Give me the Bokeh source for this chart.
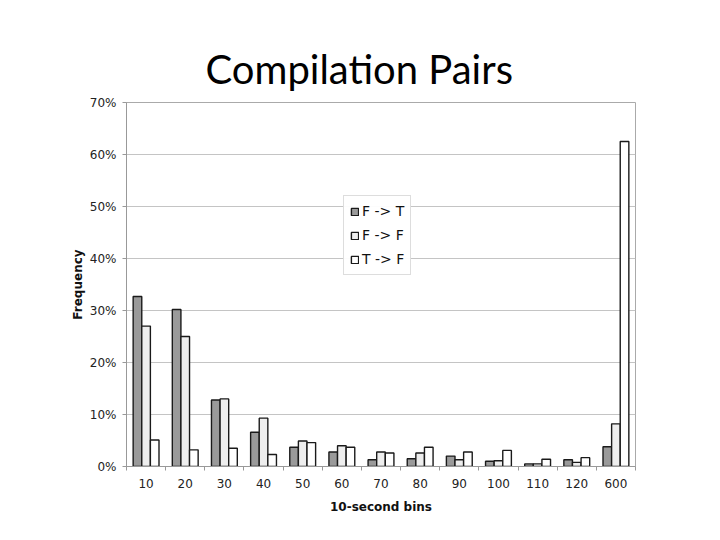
from bokeh.plotting import figure
from bokeh.models import FixedTicker, PrintfTickFormatter, Range1d
from bokeh.embed import file_html
from bokeh.resources import INLINE
import numpy as np

# data (percent)
bins = ["10", "20", "30", "40", "50", "60", "70", "80", "90", "100", "110", "120", "600"]
f_to_t = [32.7, 30.2, 12.8, 6.6, 3.7, 2.8, 1.3, 1.5, 2.0, 1.0, 0.5, 1.3, 3.8]
f_to_f = [27.0, 25.0, 13.0, 9.3, 4.9, 4.0, 2.8, 2.6, 1.3, 1.1, 0.5, 0.8, 8.2]
t_to_f = [5.1, 3.2, 3.5, 2.3, 4.6, 3.7, 2.6, 3.7, 2.8, 3.1, 1.4, 1.7, 62.5]
y_ticks = [0, 10, 20, 30, 40, 50, 60, 70]

centers = np.arange(len(bins)) + 0.5
bw = 0.22

p = figure(width=704, height=524, output_backend="svg", toolbar_location=None,
           x_range=Range1d(0, len(bins)), y_range=Range1d(0, 70),
           min_border_left=126, min_border_right=69, min_border_top=102, min_border_bottom=58,
           title="Compilation Pairs")

series = [(f_to_t, "F -> T", "#9a9a9a", -bw), (f_to_f, "F -> F", "#eeeeee", 0), (t_to_f, "T -> F", "#ffffff", bw)]
for vals, name, color, off in series:
    p.vbar(x=centers + off, top=vals, width=bw, fill_color=color,
           line_color="#1a1a1a", line_width=1.4, legend_label=name)

# axes
p.xaxis.ticker = FixedTicker(ticks=list(centers), minor_ticks=list(np.arange(len(bins) + 1)))
p.xaxis.major_label_overrides = {float(c): b for c, b in zip(centers, bins)}
p.xaxis.major_tick_line_color = None
p.xaxis.minor_tick_in = 0
p.xaxis.minor_tick_out = 4
p.xaxis.minor_tick_line_color = "#999999"
p.yaxis.ticker = FixedTicker(ticks=y_ticks, minor_ticks=[])
p.yaxis.formatter = PrintfTickFormatter(format="%d%%")
p.yaxis.major_tick_in = 0
p.yaxis.major_tick_out = 4
p.yaxis.major_tick_line_color = "#999999"
p.yaxis.minor_tick_line_color = None
for ax in (p.xaxis, p.yaxis):
    ax.axis_line_color = "#999999"
    ax.major_label_text_font = "DejaVu Sans"
    ax.major_label_text_font_size = "12px"
    ax.major_label_text_color = "#222222"
    ax.axis_label_text_font = "DejaVu Sans"
    ax.axis_label_text_font_size = "12px"
    ax.axis_label_text_font_style = "bold"
    ax.axis_label_text_color = "#111111"
    ax.major_label_standoff = 6
p.xaxis.axis_label = "10-second bins"
p.xaxis.axis_label_standoff = 9
p.yaxis.axis_label = "Frequency"
p.yaxis.axis_label_standoff = 2

p.xgrid.grid_line_color = None
p.ygrid.grid_line_color = "#c4c4c4"
p.outline_line_color = "#aaaaaa"

# legend
p.legend.location = (217, 191)
p.legend.border_line_color = "#bbbbbb"
p.legend.label_text_font = "DejaVu Sans"
p.legend.label_text_font_size = "14px"
p.legend.label_text_color = "#111111"
p.legend.glyph_width = 9
p.legend.glyph_height = 9
p.legend.label_height = 18
p.legend.spacing = 6
p.legend.padding = 6
p.legend.margin = 0
p.legend.label_standoff = 3

# slide title, centred on the page rather than on the plot frame
p.title.align = "left"
p.title.offset = 79
p.title.text_font = "Lato"
p.title.text_font_size = "40px"
p.title.text_font_style = "normal"
p.title.text_color = "#000000"
p.title.standoff = 20

open("out.html", "w").write(file_html(p, INLINE))
